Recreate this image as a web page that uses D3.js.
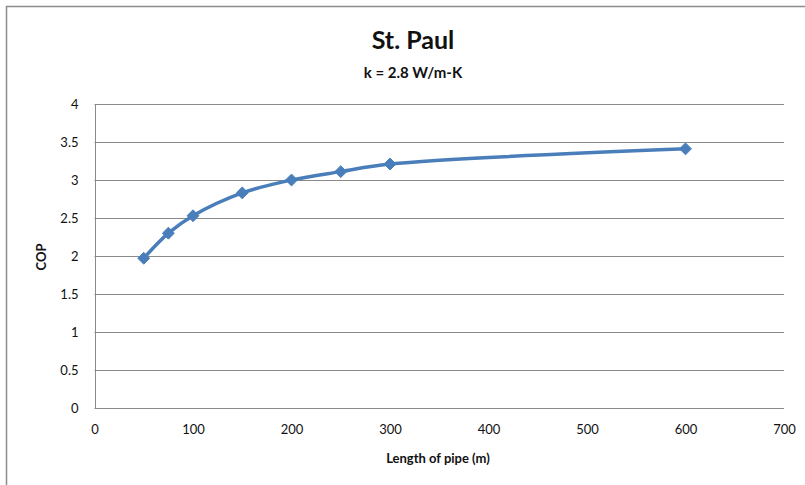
<!DOCTYPE html>
<html><head><meta charset="utf-8">
<script src="https://d3js.org/d3.v7.min.js"></script>
<style>body{margin:0;background:#fff;} svg{display:block;font-family:Lato,"Open Sans",sans-serif;}</style>
</head><body>
<script>
const lengths = [50, 75, 100, 150, 200, 250, 300, 600];
const cop = [1.97, 2.30, 2.53, 2.83, 3.00, 3.11, 3.21, 3.41];
const xTicks = [0, 100, 200, 300, 400, 500, 600, 700];
const yTicks = [0, 0.5, 1, 1.5, 2, 2.5, 3, 3.5, 4];
const title = "St. Paul";
const subtitle = "k = 2.8 W/m-K";
const xLabel = "Length of pipe (m)";
const yLabel = "COP";

const W = 805, H = 485;
const svg = d3.select("body").append("svg").attr("width", W).attr("height", H);

// chart frame (cropped at right/bottom)
svg.append("rect").attr("x", 6.5).attr("y", 6.5).attr("width", W).attr("height", H)
  .attr("fill", "none").attr("stroke", "#8c8c8c").attr("stroke-width", 1.5);

const x = d3.scaleLinear().domain([0, 700]).range([94.5, 784]);
const y = d3.scaleLinear().domain([0, 4]).range([408, 104]);

// gridlines
svg.append("g").selectAll("line").data(yTicks).join("line")
  .attr("x1", x(0)).attr("x2", x(700))
  .attr("y1", d => Math.round(y(d)) + 0.5).attr("y2", d => Math.round(y(d)) + 0.5)
  .attr("stroke", "#8a8a8a").attr("stroke-width", 1);

// y axis line
svg.append("line").attr("x1", Math.round(x(0)) + 0.5).attr("x2", Math.round(x(0)) + 0.5)
  .attr("y1", y(4)).attr("y2", y(0)).attr("stroke", "#8a8a8a");

// y tick labels
const yAxis = d3.axisLeft(y).tickValues(yTicks).tickFormat(d3.format("")).tickSize(0).tickPadding(16);
const gy = svg.append("g").attr("transform", `translate(${x(0)},0)`).call(yAxis);
gy.select(".domain").remove();
gy.selectAll("text").attr("font-size", 13).attr("fill", "#111").style("font-family", "Lato");

// x tick labels
const xAxis = d3.axisBottom(x).tickValues(xTicks).tickFormat(d3.format("")).tickSize(0).tickPadding(17);
const gx = svg.append("g").attr("transform", `translate(0,${y(0)})`).call(xAxis);
gx.select(".domain").remove();
gx.selectAll("text").attr("font-size", 13).attr("fill", "#111").style("font-family", "Lato");

// titles
svg.append("text").attr("x", 413).attr("y", 49).attr("text-anchor", "middle")
  .attr("font-size", 25).attr("font-weight", "bold").attr("fill", "#111").text(title);
svg.append("text").attr("x", 413).attr("y", 78).attr("text-anchor", "middle")
  .attr("font-size", 15).attr("font-weight", "bold").attr("fill", "#111").text(subtitle);
svg.append("text").attr("x", 438).attr("y", 463).attr("text-anchor", "middle")
  .attr("font-size", 13).attr("font-weight", "bold").attr("fill", "#111").text(xLabel);
svg.append("text").attr("transform", "translate(46,257) rotate(-90)").attr("text-anchor", "middle")
  .attr("font-size", 13).attr("font-weight", "bold").attr("fill", "#111").text(yLabel);

const data = lengths.map((l, i) => ({l, v: cop[i]}));
const line = d3.line().x(d => x(d.l)).y(d => y(d.v)).curve(d3.curveCatmullRom.alpha(0.5));
svg.append("path").datum(data).attr("d", line).attr("fill", "none")
  .attr("stroke", "#4a7ebb").attr("stroke-width", 3.5).attr("stroke-linejoin", "round");

svg.append("g").selectAll("path").data(data).join("path")
  .attr("transform", d => `translate(${x(d.l)},${y(d.v)})`)
  .attr("d", d3.symbol(d3.symbolDiamond2, 90)())
  .attr("fill", "#4a7ebb").attr("stroke", "#4a7ebb").attr("stroke-width", 1);
</script>
</body></html>
